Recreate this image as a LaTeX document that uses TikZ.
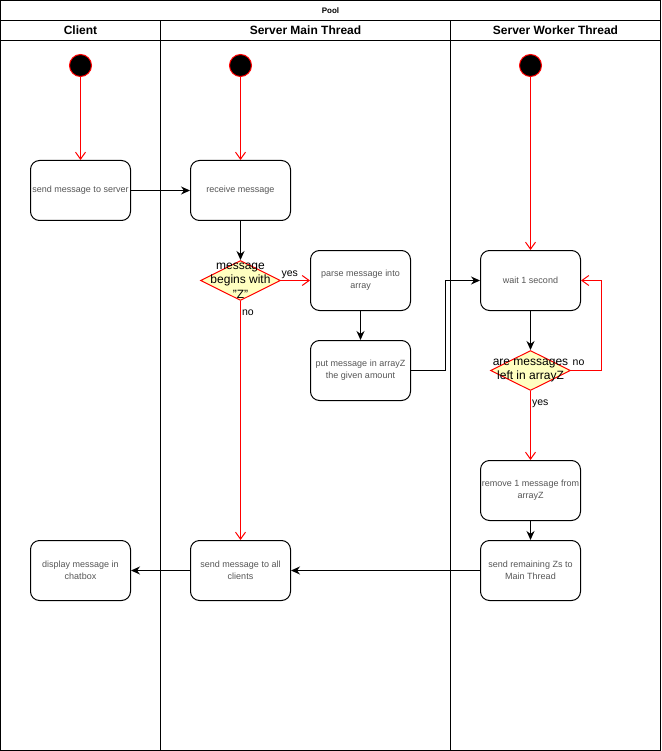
\documentclass[tikz,border=0pt]{standalone}
\usepackage{fontspec}
\setmainfont{Liberation Sans}
\usetikzlibrary{arrows.meta,shapes.geometric}
\definecolor{flowred}{RGB}{255,0,0}
\definecolor{decfill}{RGB}{255,255,192}
\definecolor{acttext}{RGB}{85,85,85}
\tikzset{
  lane/.style={line width=1pt, draw=black},
  lanehead/.style={font=\fontsize{12}{14}\selectfont\bfseries, text=black},
  act/.style={draw=black, line width=1pt, rounded corners=9pt, minimum width=100pt,
              minimum height=60pt, inner sep=1pt, align=center, text=acttext,
              font=\fontsize{9}{12}\selectfont},
  startpt/.style={circle, draw=flowred, fill=black, line width=1pt, minimum size=22pt, inner sep=0pt},
  decision/.style={diamond, draw=flowred, fill=decfill, line width=1pt, minimum width=80pt,
                   minimum height=40pt, inner sep=0pt},
  dectext/.style={align=center, text=black, inner sep=0pt, font=\fontsize{12}{14.5}\selectfont},
  flow/.style={line width=1pt, draw=black, -{Stealth[length=9pt,width=8pt]}},
  guard/.style={line width=1pt, draw=flowred, -{Straight Barb[length=7pt,width=10pt]}},
  edgelbl/.style={text=black, inner sep=1pt, font=\fontsize{10.5}{12}\selectfont},
}
\begin{document}
\begin{tikzpicture}[x=1pt, y=-1pt]
\useasboundingbox (-0.5,-0.5) rectangle (660.5,750.5);

% swimlane frame
\draw[lane] (0,0) rectangle (660,750);
\draw[lane] (0,20) -- (660,20);
\draw[lane] (0,40) -- (660,40);
\draw[lane] (160,20) -- (160,750);
\draw[lane] (450,20) -- (450,750);
\node[font=\fontsize{8}{9}\selectfont\bfseries] (pool) at (330,10) {Pool};
\node[lanehead] (hclient) at (80,30) {Client};
\node[lanehead] (hmain) at (305,30) {Server Main Thread};
\node[lanehead] (hworker) at (555,30) {Server Worker Thread};

% start points
\node[startpt] (s1) at (80,65) {};
\node[startpt] (s2) at (240,65) {};
\node[startpt] (s3) at (530,65) {};

% activities
\node[act] (send) at (80,190) {send message to server};
\node[act] (recv) at (240,190) {receive message};
\node[act] (parse) at (360,280) {parse message into\\array};
\node[act] (put) at (360,370) {put message in arrayZ\\the given amount};
\node[act] (wait) at (530,280) {wait 1 second};
\node[act] (remove) at (530,490) {remove 1 message from\\arrayZ};
\node[act] (remain) at (530,570) {send remaining Zs to\\Main Thread};
\node[act] (allc) at (240,570) {send message to all\\clients};
\node[act] (disp) at (80,570) {display message in\\chatbox};

% decisions
\node[decision] (d1) at (240,280) {};
\node[dectext] (d1t) at (240,280) {message\\begins with\\"Z"};
\node[decision] (d2) at (530,370) {};
\node[dectext] (d2t) at (530,370) {are messages\\left in arrayZ};

% transitions
\draw[guard] (s1) -- (send);
\draw[guard] (s2) -- (recv);
\draw[guard] (s3) -- (wait);
\draw[flow] (send) -- (recv);
\draw[flow] (recv) -- (d1);
\draw[guard] (d1.east) -- (parse.west) node[edgelbl, pos=0.3, above] {yes};
\draw[guard] (d1.south) -- (allc.north) node[edgelbl, pos=0.05, right] {no};
\draw[flow] (parse) -- (put);
\draw[flow] (put.east) -- ++(34,0) |- (wait.west);
\draw[flow] (wait) -- (d2);
\draw[guard] (d2.east) -- ++(30,0) |- (wait.east);
\node[edgelbl] (no2) at (578,362) {no};
\draw[guard] (d2.south) -- (remove.north) node[edgelbl, pos=0.18, right] {yes};
\draw[flow] (remove) -- (remain);
\draw[flow] (remain) -- (allc);
\draw[flow] (allc) -- (disp);
\end{tikzpicture}
\end{document}
